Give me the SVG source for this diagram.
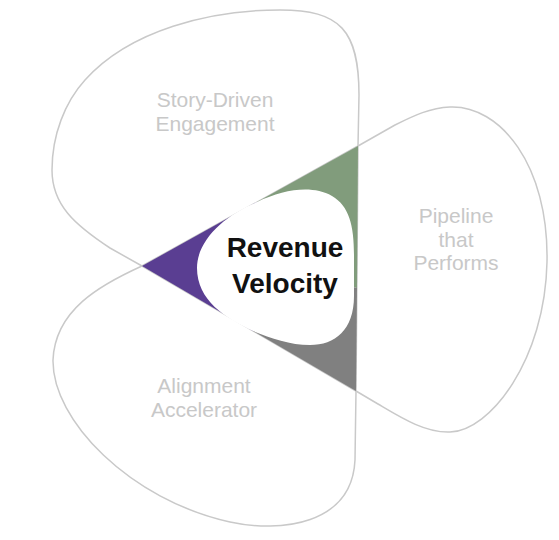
<svg xmlns="http://www.w3.org/2000/svg" width="559" height="540" viewBox="0 0 559 540">
<style>
.lobe{fill:none;stroke:#c9c9c9;stroke-width:1.5;stroke-linejoin:round}
.lbl{font-family:"Liberation Sans",Arial,sans-serif;font-size:21px;fill:#c8c8c8;text-anchor:middle}
.core{font-family:"Liberation Sans",Arial,sans-serif;font-size:28px;font-weight:bold;fill:#111;text-anchor:middle}
</style>
<rect width="559" height="540" fill="#fff"/>
<g id="connectors">
<path class="lobe" d="M358,146 L142,266 M142,266 L356,391 M356,391 L358,146"/>
</g>
<g id="center">
<polygon points="142,266 257,202 285,268 253,331" fill="#5a3e92"/>
<polygon points="358,146 357,288 285,268 257,202" fill="#819c7c"/>
<polygon points="356,391 253,331 285,268 357,288" fill="#808080"/>
<path d="M257,202 C285,189 312,185 332,196 C349,206 354,225 354,255 L354,296 C354,330 335,345 310,345 C290,345 270,338 253,331 C225,318 197,300 197,268 C197,240 225,215 257,202 Z" fill="#fff"/>
<text class="core" x="285" y="257">Revenue</text>
<text class="core" x="285" y="293">Velocity</text>
</g>
<g id="story-driven">
<path class="lobe" d="M358,146 L359,95 C359,30 340,10 280,10 C210,10 130,30 85,80 C65,102 52,135 52,170 C52,205 75,225 110,248 L142,266"/>
<text class="lbl" x="215" y="107">Story-Driven</text>
<text class="lbl" x="215" y="131">Engagement</text>
</g>
<g id="pipeline">
<path class="lobe" d="M356,391 L378,404 C400,417 425,433 450,432 C490,431 545,360 547,262 C549,165 500,105 450,107 C430,108 415,115 395,125 L358,146"/>
<text class="lbl" x="456" y="223">Pipeline</text>
<text class="lbl" x="456" y="247">that</text>
<text class="lbl" x="456" y="270">Performs</text>
</g>
<g id="alignment">
<path class="lobe" d="M142,266 C100,285 55,310 53,360 C52,420 130,500 230,522 C280,533 352,525 355,460 L356,391"/>
<text class="lbl" x="204" y="393">Alignment</text>
<text class="lbl" x="204" y="417">Accelerator</text>
</g>
</svg>
